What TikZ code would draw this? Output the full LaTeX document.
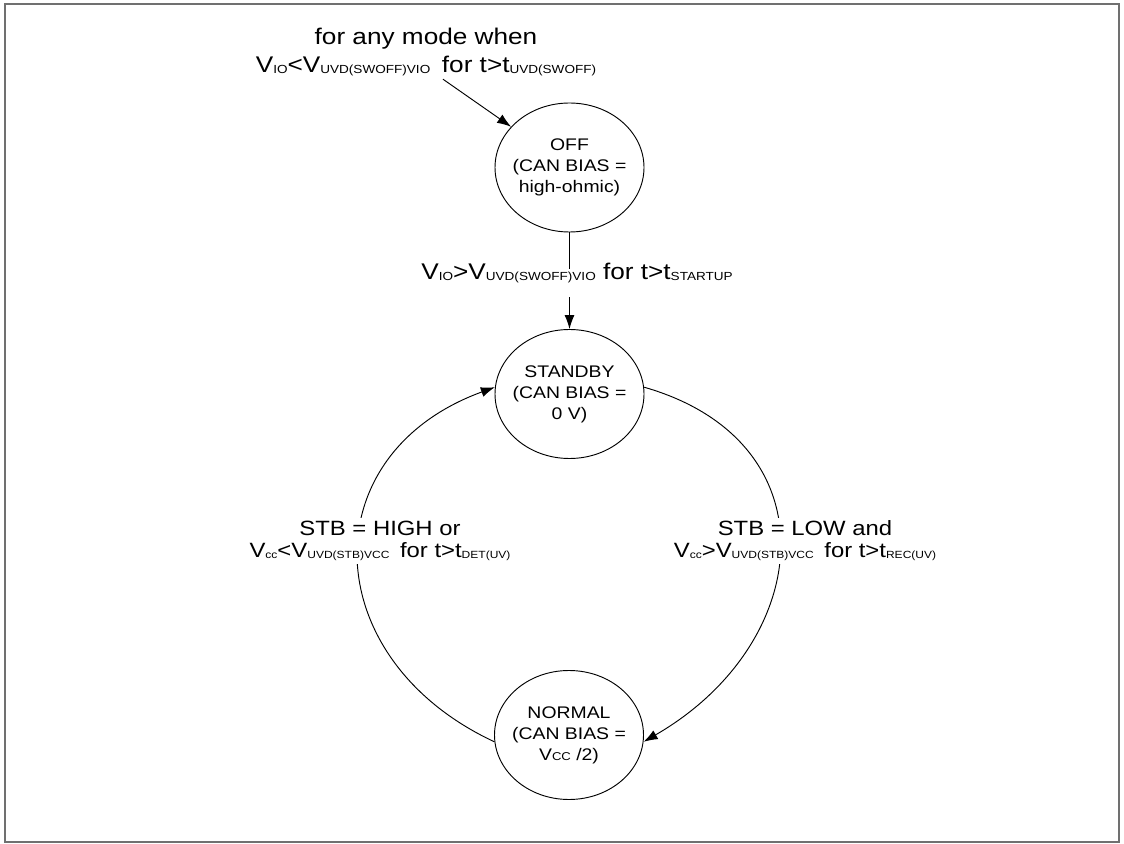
\documentclass[tikz,border=0pt]{standalone}
\usepackage{fontspec}
\setmainfont{Liberation Sans}
\usetikzlibrary{arrows.meta,calc,positioning}
\definecolor{framegray}{RGB}{112,112,112}
\newcommand{\lsub}[1]{\raisebox{-0.8pt}{\fontsize{8.8}{8.8}\selectfont #1}}
\newcommand{\ssub}[1]{\raisebox{-0.8pt}{\fontsize{7.8}{7.8}\selectfont #1}}
\newcommand{\csub}[1]{\raisebox{-0.5pt}{\fontsize{8.5}{8.5}\selectfont #1}}
\tikzstyle{state} = [circle, draw=black, line width=0.7pt, minimum size=96.75pt,
inner sep=0pt, xscale=1.155, align=center, font=\fontsize{12.6}{15.75}\selectfont]
\tikzstyle{cond} = [align=center, xscale=1.155, inner sep=0pt,
font=\fontsize{17}{21}\selectfont]
\tikzstyle{sidecond} = [cond, fill=white, inner xsep=2pt, inner ysep=2.5pt,
font=\fontsize{15.5}{16.5}\selectfont]
\tikzstyle{arrow} = [line width=0.7pt,->]
\tikzset{>={Latex[length=10.5pt,width=7.5pt]}}

\begin{document}
\begin{tikzpicture}[x=0.75pt, y=0.75pt]
  \useasboundingbox (0,0) rectangle (1124,843);
  \draw[framegray, line width=1.5pt] (4.5,838.7) rectangle (1119,1.2);
  % states
  \node[state] (off) at (569.5,675.5) {OFF\\(CAN BIAS =\\high-ohmic)};
  \node[state] (standby) at (569.5,449) {STANDBY\\(CAN BIAS =\\0 V)};
  \node[state] (normal) at (569,108) {NORMAL\\(CAN BIAS =\\V\csub{CC} /2)};
  % conditions
  \node[cond] (anymode) at (426,791) {for any mode when\\V\lsub{IO}<V\lsub{UVD(SWOFF)VIO}\,~for t>t\lsub{UVD(SWOFF)}};
  \coordinate (anyfoot) at ($(anymode.south)+(17,-3)$);
  \draw[arrow] (anyfoot) -- (off);
  \draw[arrow] (off.south) -- node[cond, fill=white, pos=0.526, xshift=4.9pt,
    text height=7.5pt, text depth=13.5pt] (startup)
    {V\lsub{IO}>V\lsub{UVD(SWOFF)VIO} for t>t\lsub{STARTUP}} (standby.north);
  \draw[arrow] (standby.6) to[out=-16, in=30, looseness=1.43] (normal.-6);
  \draw[arrow] (normal.186) to[out=155, in=200, looseness=1.42] (standby.174);
  \node[sidecond] (low) at (805,302) {STB = LOW and\\V\ssub{cc}>V\ssub{UVD(STB)VCC}\,~for t>t\ssub{REC(UV)}};
  \node[sidecond] (high) at (380,302) {STB = HIGH or\\V\ssub{cc}<V\ssub{UVD(STB)VCC}\,~for t>t\ssub{DET(UV)}};
\end{tikzpicture}
\end{document}
